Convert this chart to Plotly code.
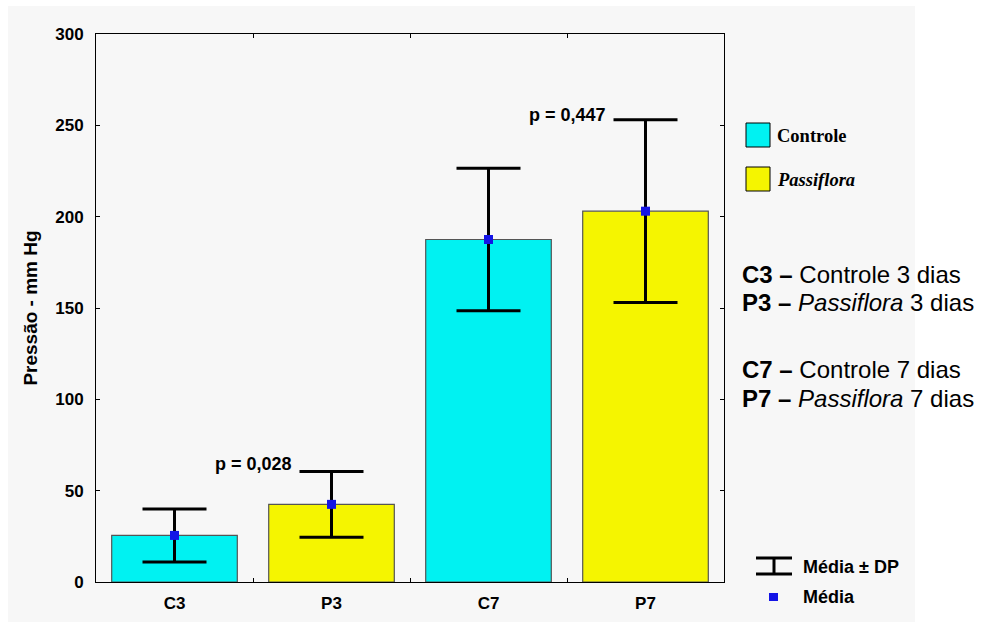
import plotly.graph_objects as go

categories = ["C3", "P3", "C7", "P7"]
means = [25.5, 42.5, 187.5, 203.0]
sd = [14.5, 18.0, 39.0, 50.0]
bar_colors = ["#00F2F2", "#F5F500", "#00F2F2", "#F5F500"]
p_labels = ["p = 0,028", "p = 0,447"]
p_x = [0.5, 2.5]
p_y = [64.5, 255.5]

W, H = 996, 628
L, R, T, B = 96, 724, 34, 582
pw, ph = R - L, B - T

def px(x):
    return (x - L) / pw

def py(y):
    return (B - y) / ph

SANS = "Liberation Sans, Arial"
SERIF = "Liberation Serif, Times New Roman"

fig = go.Figure()
fig.add_trace(go.Bar(
    x=categories, y=means, width=0.8,
    marker=dict(color=bar_colors, line=dict(color="#555555", width=1.2)),
    showlegend=False, hoverinfo="skip"))
fig.add_trace(go.Scatter(
    x=categories, y=means, mode="markers",
    marker=dict(symbol="square", size=9, color="#1414E6"),
    error_y=dict(type="data", array=sd, visible=True, color="black", thickness=3, width=32),
    showlegend=False))

shapes = [
    dict(type="rect", xref="paper", yref="paper", x0=px(8), x1=px(915), y0=py(622), y1=py(6),
         fillcolor="#F7F7F7", line=dict(width=0), layer="below"),
    dict(type="rect", xref="paper", yref="paper", x0=px(746), x1=px(770), y0=py(147), y1=py(123),
         fillcolor="#00F2F2", line=dict(color="black", width=1)),
    dict(type="rect", xref="paper", yref="paper", x0=px(746), x1=px(770), y0=py(191), y1=py(167),
         fillcolor="#F5F500", line=dict(color="black", width=1)),
    dict(type="line", xref="paper", yref="paper", x0=px(756), x1=px(792), y0=py(558), y1=py(558),
         line=dict(color="black", width=3)),
    dict(type="line", xref="paper", yref="paper", x0=px(756), x1=px(792), y0=py(574), y1=py(574),
         line=dict(color="black", width=3)),
    dict(type="line", xref="paper", yref="paper", x0=px(774), x1=px(774), y0=py(558), y1=py(574),
         line=dict(color="black", width=3)),
    dict(type="rect", xref="paper", yref="paper", x0=px(769), x1=px(778), y0=py(601), y1=py(593),
         fillcolor="#1414E6", line=dict(width=0)),
]

ann = []
for t, x, y in zip(p_labels, p_x, p_y):
    ann.append(dict(x=x, y=y, xref="x", yref="y", text="<b>" + t + "</b>", showarrow=False,
                    yanchor="middle", font=dict(family=SANS, size=18, color="black")))

def label(text, x, y, family, size):
    return dict(x=px(x), y=py(y), xref="paper", yref="paper", xanchor="left", yanchor="middle",
                text=text, showarrow=False, font=dict(family=family, size=size, color="black"))

ann += [
    label("<b>Controle</b>", 775, 136, SERIF, 18.5),
    label("<b><i>Passiflora</i></b>", 775, 180, SERIF, 18.5),
]
desc = [
    ("<b>C3 –</b> Controle 3 dias", 274),
    ("<b>P3 –</b> <i>Passiflora</i> 3 dias", 302),
    ("<b>C7 –</b> Controle 7 dias", 370),
    ("<b>P7 –</b> <i>Passiflora</i> 7 dias", 398),
]
for t, y in desc:
    ann.append(label(t, 740, y, SANS, 24))
ann += [
    label("<b>Média ± DP</b>", 801, 567, SANS, 18),
    label("<b>Média</b>", 801, 597, SANS, 18),
]

fig.update_layout(
    width=W, height=H,
    margin=dict(l=L, r=W - R, t=T, b=H - B, pad=0),
    paper_bgcolor="white", plot_bgcolor="#F7F7F7",
    shapes=shapes, annotations=ann, bargap=0.2,
    font=dict(family=SANS, color="black"),
)
fig.update_xaxes(
    range=[-0.5, 3.5], showline=True, linecolor="black", linewidth=1, mirror="ticks",
    ticks="inside", tickson="boundaries", ticklen=4, tickcolor="black", showgrid=False,
    ticklabelstandoff=6,
    tickfont=dict(size=17, weight="bold", family=SANS))
fig.update_yaxes(
    range=[0, 300], dtick=50, showline=True, linecolor="black", linewidth=1, mirror="ticks",
    ticks="inside", ticklen=4, tickcolor="black", showgrid=False, zeroline=False,
    ticklabelstandoff=8,
    tickfont=dict(size=17, weight="bold", family=SANS),
    title=dict(text="Pressão - mm Hg", standoff=12,
               font=dict(size=19, weight="bold", family=SANS)))

fig.write_html("out.html", config={"displayModeBar": False},
               post_script="document.body.style.margin='0px';")
